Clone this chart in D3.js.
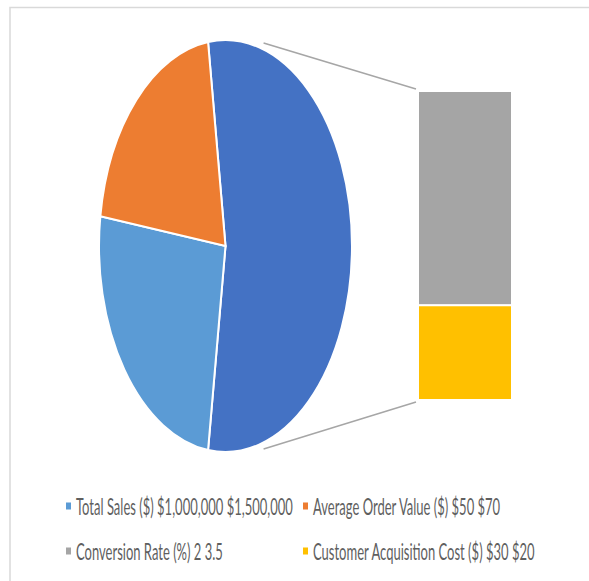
<!DOCTYPE html>
<html>
<head>
<meta charset="utf-8">
<script src="https://cdn.jsdelivr.net/npm/d3@7"></script>
<style>
  html, body { margin: 0; padding: 0; background: #fff; }
  svg { display: block; }
</style>
</head>
<body>
<div id="chart"></div>
<script>
// series names as Excel wrote them into the legend
var seriesNames = [
    "Total Sales ($) $1,000,000 $1,500,000",
    "Average Order Value ($) $50 $70",
    "Conversion Rate (%) 2 3.5",
    "Customer Acquisition Cost ($) $30 $20"
];
// share of each point (percent)
var seriesValues = [25.1, 20.5, 37.7, 16.7];
var seriesColors = ["#5B9BD5", "#ED7D31", "#A5A5A5", "#FFC000"];
// how many of the last points go into the bar
var splitCount = 2;
var otherColor = "#4472C4";

var width = 589, height = 581;

var svg = d3.select("#chart").append("svg")
    .attr("width", width)
    .attr("height", height);

// chart area border (right and bottom run off the picture)
svg.append("rect")
    .attr("x", 10).attr("y", 7.5)
    .attr("width", 640).attr("height", 640)
    .attr("fill", "#fff")
    .attr("stroke", "#d9d9d9")
    .attr("stroke-width", 1.5);

var pieCount = seriesValues.length - splitCount;
var otherValue = d3.sum(seriesValues.slice(pieCount));
var total = d3.sum(seriesValues);

// pie points: "other" first, then the rest
var pieData = [{name: "Other", value: otherValue, color: otherColor}];
for (var i = 0; i < pieCount; i++) {
    pieData.push({name: seriesNames[i], value: seriesValues[i], color: seriesColors[i]});
}

var otherAngle = otherValue / total * 2 * Math.PI;
var start = Math.PI / 2 - otherAngle / 2;

var pie = d3.pie()
    .sort(null)
    .value(function (d) { return d.value; })
    .startAngle(start)
    .endAngle(start + 2 * Math.PI);

// pie is drawn on a unit radius then stretched to the ellipse
var cx = 225.5, cy = 246, rx = 126.5, ry = 206, r = 100;
var arc = d3.arc().innerRadius(0).outerRadius(r);

var pieG = svg.append("g")
    .attr("transform", "translate(" + cx + "," + cy + ") scale(" + (rx / r) + "," + (ry / r) + ")");

pieG.selectAll("path")
    .data(pie(pieData))
    .enter().append("path")
    .attr("d", arc)
    .attr("fill", function (d) { return d.data.color; })
    .attr("stroke", "#fff")
    .attr("stroke-width", 2)
    .attr("vector-effect", "non-scaling-stroke");

// stacked bar for the split points
var barX = 418, barW = 94, barTop = 91, barBottom = 400;
var y = d3.scaleLinear()
    .domain([0, otherValue])
    .range([barBottom, barTop]);

var barData = [];
var acc = 0;
// last point sits at the bottom
for (var j = seriesValues.length - 1; j >= pieCount; j--) {
    barData.push({y0: acc, y1: acc + seriesValues[j], color: seriesColors[j]});
    acc += seriesValues[j];
}

svg.append("g").selectAll("rect")
    .data(barData)
    .enter().append("rect")
    .attr("x", barX)
    .attr("width", barW)
    .attr("y", function (d) { return y(d.y1); })
    .attr("height", function (d) { return y(d.y0) - y(d.y1); })
    .attr("fill", function (d) { return d.color; })
    .attr("stroke", "#fff")
    .attr("stroke-width", 2);

// series lines from the pie to the bar corners
function ellipsePoint(a, k) {
    return [cx + rx * k * Math.sin(a), cy - ry * k * Math.cos(a)];
}
var lineAngle = 17 * Math.PI / 180;
var p1 = ellipsePoint(lineAngle, 1.03);
var p2 = ellipsePoint(Math.PI - lineAngle, 1.03);
var connectors = [
    [p1, [barX - 2, y(otherValue) - 2]],
    [p2, [barX - 2, y(0) + 2]]
];
svg.append("g").selectAll("line")
    .data(connectors)
    .enter().append("line")
    .attr("x1", function (d) { return d[0][0]; })
    .attr("y1", function (d) { return d[0][1]; })
    .attr("x2", function (d) { return d[1][0]; })
    .attr("y2", function (d) { return d[1][1]; })
    .attr("stroke", "#a6a6a6")
    .attr("stroke-width", 1.5);

// legend: two rows, two columns
var legendCols = [66, 303], legendRows = [506, 551];
var legend = svg.append("g");

var items = legend.selectAll("g")
    .data(seriesNames)
    .enter().append("g")
    .attr("transform", function (d, i) {
        return "translate(" + legendCols[i % 2] + "," + legendRows[Math.floor(i / 2)] + ")";
    });

items.append("rect")
    .attr("x", 0).attr("y", -3.5)
    .attr("width", 5).attr("height", 7)
    .attr("fill", function (d, i) { return seriesColors[i]; });

var labels = items.append("text")
    .attr("x", 0)
    .attr("y", 0)
    .attr("dy", "0.36em")
    .attr("fill", "#5f5f5f")
    .style("font-family", "Lato, 'Open Sans', sans-serif")
    .style("font-size", "24px")
    .text(function (d) { return d; });

// squeeze text to the narrow, tall look of the original
var natural = labels.nodes()[0].getComputedTextLength();
var sx = 217 / natural;
labels.attr("transform", "translate(10,0) scale(" + sx + ",1)");
</script>
</body>
</html>
